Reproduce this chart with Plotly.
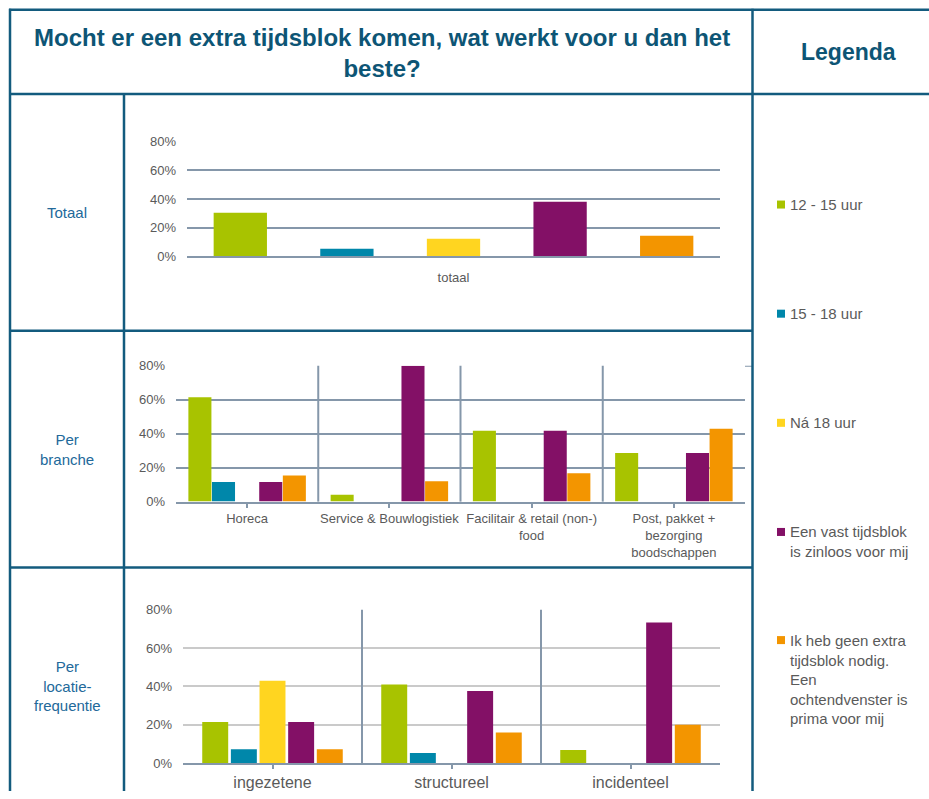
import plotly.graph_objects as go

W, H = 929, 799

# ---------------- data ----------------
series_names = ["12 - 15 uur", "15 - 18 uur", "Ná 18 uur",
                "Een vast tijdsblok is zinloos voor mij",
                "Ik heb geen extra tijdsblok nodig. Een ochtendvenster is prima voor mij"]
legend_labels = ["12 - 15 uur", "15 - 18 uur", "Ná 18 uur",
                 "Een vast tijdsblok<br>is zinloos voor mij",
                 "Ik heb geen extra<br>tijdsblok nodig.<br>Een<br>ochtendvenster is<br>prima voor mij"]
colors = ["#A8C300", "#0087AA", "#FFD520", "#831066", "#F39500"]

totaal_categories = ["totaal"]
totaal_12_15 = [30.5]
totaal_15_18 = [5.3]
totaal_na_18 = [12.3]
totaal_zinloos = [38.1]
totaal_niet_nodig = [14.4]

branche_categories = ["Horeca", "Service & Bouwlogistiek",
                      "Facilitair & retail (non-)<br>food",
                      "Post, pakket +<br>bezorging<br>boodschappen"]
branche_12_15 = [61.5, 4.0, 41.7, 28.6]
branche_15_18 = [11.5, 0, 0, 0]
branche_na_18 = [0, 0, 0, 0]
branche_zinloos = [11.5, 80.0, 41.7, 28.6]
branche_niet_nodig = [15.4, 12.0, 16.7, 42.9]

locatie_categories = ["ingezetene", "structureel", "incidenteel"]
locatie_12_15 = [21.4, 40.9, 6.7]
locatie_15_18 = [7.1, 5.2, 0]
locatie_na_18 = [42.9, 0, 0]
locatie_zinloos = [21.4, 37.6, 73.3]
locatie_niet_nodig = [7.1, 15.9, 20.0]

y_ticks = [0, 20, 40, 60, 80]
y_tick_labels = ["0%", "20%", "40%", "60%", "80%"]

row_labels = ["Totaal", "Per<br>branche", "Per<br>locatie-<br>frequentie"]
title_text = "Mocht er een extra tijdsblok komen, wat werkt voor u dan het<br>beste?"
legend_title = "Legenda"

# ---------------- helpers ----------------
def px(x):
    return x / W

def py(y):
    # vertical placement calibrated against the rendered screenshot
    yy = (y - 6.7) / 0.98
    yy = min(max(yy, 0), H)
    return 1 - yy / H

FONT = "Liberation Sans, Arial, sans-serif"
FRAME = "#135B7E"
TITLE_C = "#0D5575"
LABEL_C = "#22699A"
TEXT_C = "#5A5A5A"
GRID = "#8597AA"
GRID_LIGHT = "#CACACA"

fig = go.Figure()

panels = [
    dict(cats=totaal_categories,
         vals=[totaal_12_15, totaal_15_18, totaal_na_18, totaal_zinloos, totaal_niet_nodig],
         ax="", group=1.0, pitch=0.2, width=0.1),
    dict(cats=branche_categories,
         vals=[branche_12_15, branche_15_18, branche_na_18, branche_zinloos, branche_niet_nodig],
         ax="2", group=0.83, pitch=0.166, width=0.162),
    dict(cats=locatie_categories,
         vals=[locatie_12_15, locatie_15_18, locatie_na_18, locatie_zinloos, locatie_niet_nodig],
         ax="3", group=0.8, pitch=0.16, width=0.145),
]

for p in panels:
    for i, (name, col, v) in enumerate(zip(series_names, colors, p["vals"])):
        offset = -p["group"] / 2 + p["pitch"] * i + (p["pitch"] - p["width"]) / 2
        fig.add_trace(go.Bar(
            x=list(range(len(p["cats"]))), y=v, name=name,
            marker=dict(color=col, line=dict(width=0)),
            width=p["width"], offset=offset,
            xaxis="x" + p["ax"], yaxis="y" + p["ax"],
            showlegend=False, hoverinfo="skip",
        ))

def yaxis(domain, grid, anchor):
    return dict(domain=domain, range=[0, 80], tickvals=y_ticks, ticktext=y_tick_labels,
                showgrid=True, gridcolor=grid, gridwidth=2, zeroline=False,
                showline=False, ticks="", ticklabelstandoff=10,
                tickfont=dict(family=FONT, size=13, color=TEXT_C),
                anchor=anchor, fixedrange=True)

def xaxis(domain, cats, anchor, ticks, fsize, standoff, ticklen):
    return dict(domain=domain, range=[-0.5, len(cats) - 0.5],
                tickvals=list(range(len(cats))), ticktext=cats,
                showgrid=False, zeroline=False, showline=True,
                linecolor=GRID, linewidth=2,
                ticks=ticks, tickson="boundaries", ticklen=ticklen,
                tickwidth=2, tickcolor=GRID, ticklabelstandoff=standoff,
                tickfont=dict(family=FONT, size=fsize, color=TEXT_C),
                anchor=anchor, fixedrange=True)

fig.update_layout(
    xaxis=xaxis([px(187), px(720)], totaal_categories, "y", "", 13, 8, 0),
    yaxis=yaxis([py(255.7), py(141.3)], GRID, "x"),
    xaxis2=xaxis([px(176), px(745)], branche_categories, "y2", "outside", 13, 0, 4),
    yaxis2=yaxis([py(500.7), py(365)], GRID, "x2"),
    xaxis3=xaxis([px(183), px(720)], locatie_categories, "y3", "outside", 16, 0, 4),
    yaxis3=yaxis([py(761.7), py(608.7)], GRID_LIGHT, "x3"),
)

shapes = []
# category separators
for p in panels[1:]:
    for k in range(len(p["cats"]) - 1):
        shapes.append(dict(type="line", xref="x" + p["ax"], yref="y" + p["ax"] + " domain",
                           x0=k + 0.5, x1=k + 0.5, y0=0, y1=1,
                           line=dict(color=GRID, width=2)))
# 80% gridline of the branche chart runs on to the legend column
shapes.append(dict(type="line", xref="x2 domain", yref="y2", x0=1, x1=1 + 7 / 569,
                   y0=80, y1=80, line=dict(color=GRID, width=2)))

# table frame
def hline(y, x0, x1):
    shapes.append(dict(type="line", xref="paper", yref="paper", x0=px(x0), x1=px(x1),
                       y0=py(y), y1=py(y), line=dict(color=FRAME, width=2.5)))

def vline(x, y0, y1):
    shapes.append(dict(type="line", xref="paper", yref="paper", x0=px(x), x1=px(x),
                       y0=py(y0), y1=py(y1), line=dict(color=FRAME, width=2.5)))

hline(9.5, 9, 929)
hline(93.5, 9, 929)
hline(330, 9, 753)
hline(566.5, 9, 753)
vline(10, 8.5, 820)
vline(124, 93, 820)
vline(752.5, 8.5, 820)

# legend keys
legend_y = [204, 313, 422, 531, 639]
for col, yy in zip(colors, legend_y):
    shapes.append(dict(type="rect", xref="paper", yref="paper",
                       x0=px(777), x1=px(785), y0=py(yy + 4), y1=py(yy - 4),
                       fillcolor=col, line=dict(width=0)))

annotations = []
annotations.append(dict(text="<b>" + title_text + "</b>", x=px(382), y=py(53),
                        xref="paper", yref="paper", xanchor="center", yanchor="middle",
                        showarrow=False, font=dict(family=FONT, size=24, color=TITLE_C)))
annotations.append(dict(text="<b>" + legend_title + "</b>", x=px(848), y=py(52),
                        xref="paper", yref="paper", xanchor="center", yanchor="middle",
                        showarrow=False, font=dict(family=FONT, size=23, color=TITLE_C)))
for lbl, yy in zip(row_labels, [212, 448.5, 685]):
    annotations.append(dict(text=lbl, x=px(67), y=py(yy), xref="paper", yref="paper",
                            xanchor="center", yanchor="middle", showarrow=False,
                            font=dict(family=FONT, size=15, color=LABEL_C)))
for lbl, yy in zip(legend_labels, legend_y):
    annotations.append(dict(text=lbl, x=px(788), y=py(yy - 10.5), xref="paper", yref="paper",
                            xanchor="left", yanchor="top", align="left", showarrow=False,
                            font=dict(family=FONT, size=15, color=TEXT_C)))

fig.update_layout(
    width=W, height=H, margin=dict(l=0, r=0, t=0, b=0),
    paper_bgcolor="white", plot_bgcolor="white",
    barmode="overlay", showlegend=False,
    shapes=shapes, annotations=annotations,
    font=dict(family=FONT),
)

post = ("document.documentElement.style.margin='0';document.body.style.margin='0';"
        "document.body.style.padding='0';document.body.style.overflow='hidden';")
fig.write_html("out.html", config={"displayModeBar": False}, post_script=post)
